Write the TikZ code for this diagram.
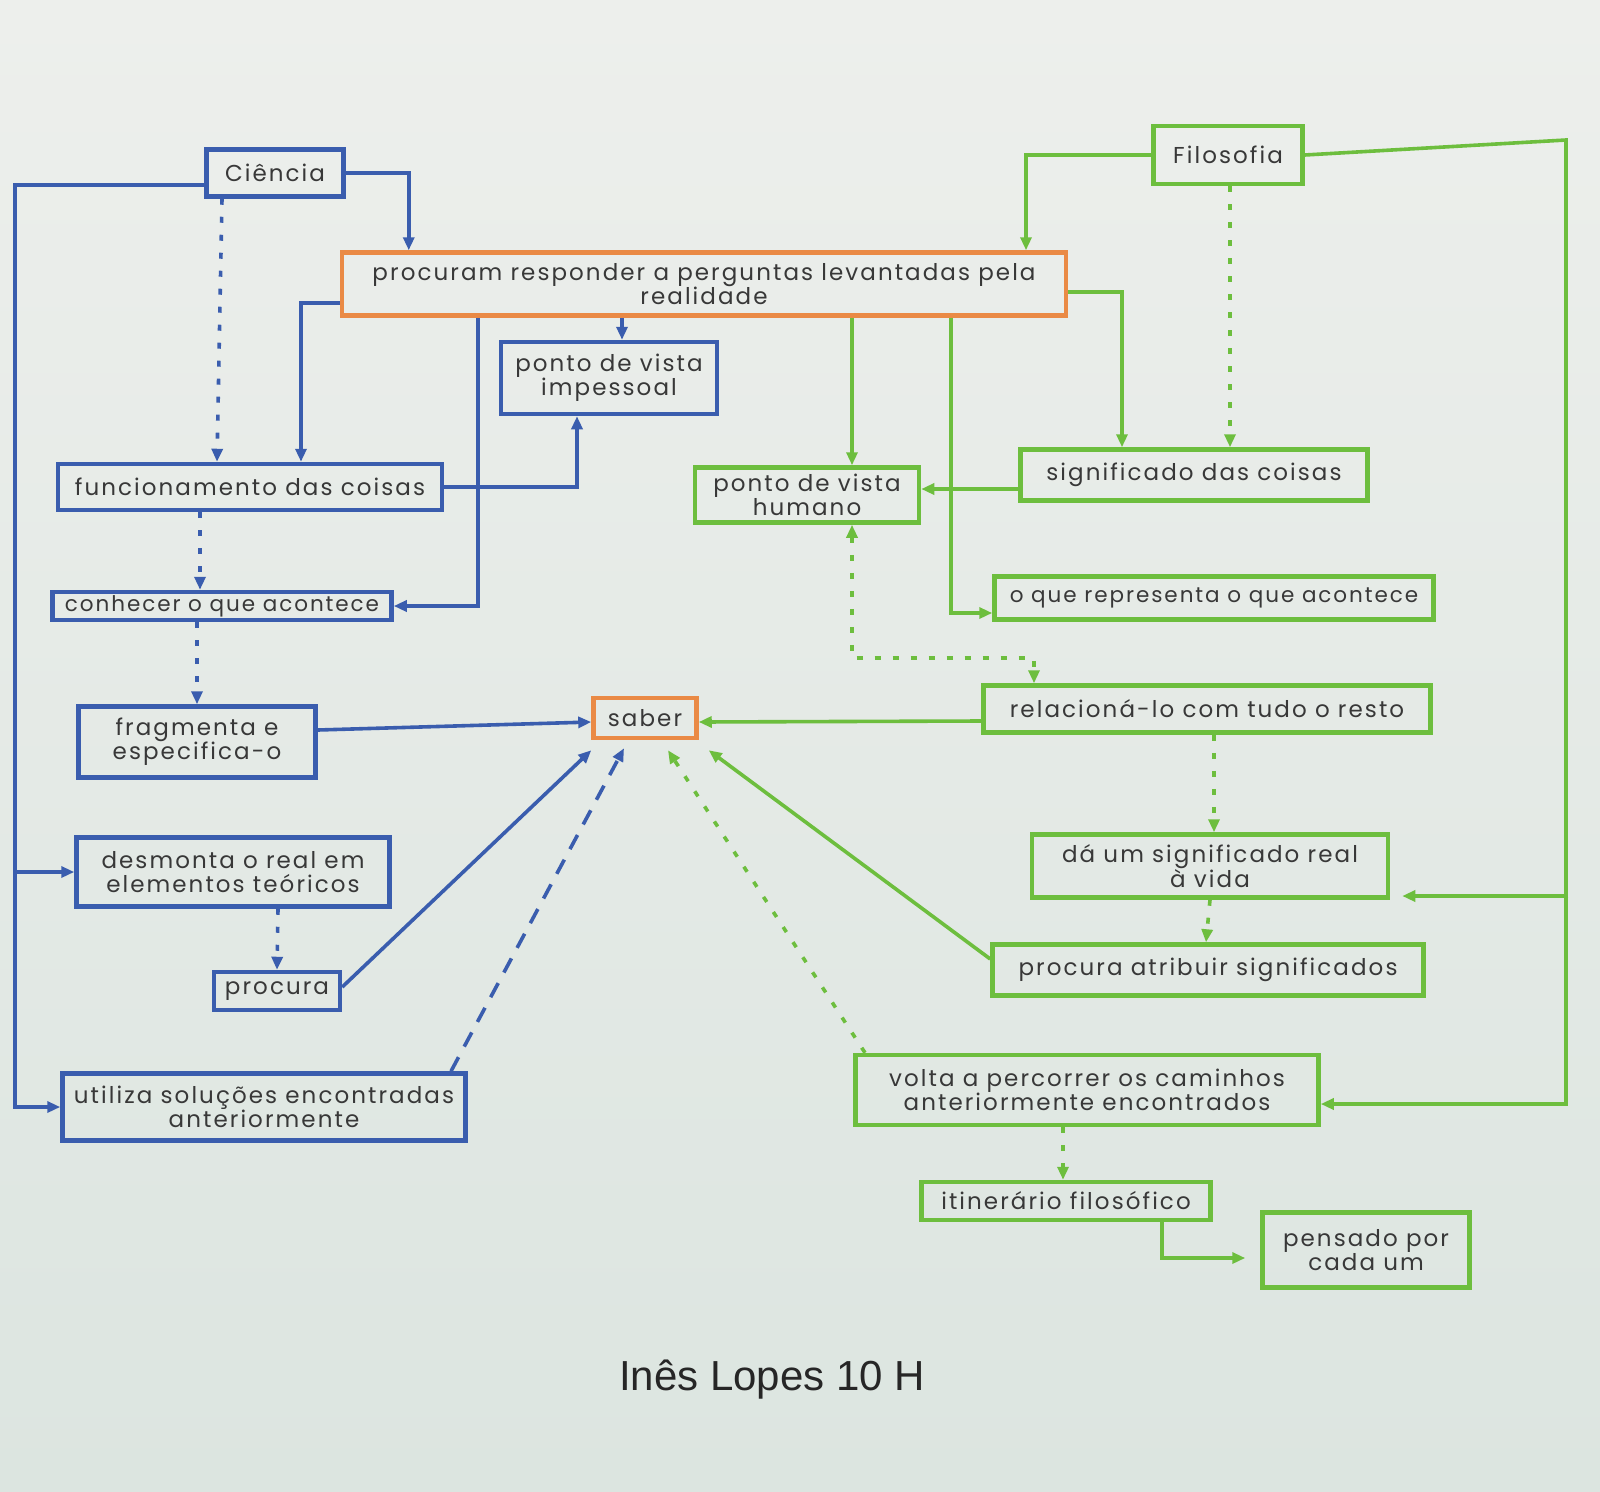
\documentclass[tikz,border=0pt]{standalone}
\usepackage{fontspec}
\setmainfont{Poppins}[LetterSpace=9]
\newfontfamily\autorfont{Liberation Sans}
\usetikzlibrary{arrows.meta}
\definecolor{cblue}{HTML}{3A5DAE}
\definecolor{fgreen}{HTML}{6DBE3E}
\definecolor{korange}{HTML}{EA8A45}
\definecolor{paper}{HTML}{DCE5E0}
\definecolor{papertop}{HTML}{EDEFEC}

\begin{document}
\begin{tikzpicture}[x=1pt, y=-1pt,
		every node/.style={font=\fontsize{23}{24}\selectfont, text=black!78, inner sep=0pt, align=center},
		cbox/.style={draw=cblue, line width=4.5pt},
		fbox/.style={draw=fgreen, line width=4.5pt},
		kbox/.style={draw=korange, line width=4.5pt},
		cline/.style={draw=cblue, line width=3.6pt, -{Triangle[length=13pt,width=11pt]}},
		fline/.style={draw=fgreen, line width=3.6pt, -{Triangle[length=13pt,width=11pt]}},
		dots/.style={dash pattern=on 6pt off 12pt},
		longdash/.style={dash pattern=on 16pt off 12pt}]
				\shade[top color=papertop, bottom color=paper] (0,0) rectangle (1600,1491);
				\useasboundingbox (0,0) rectangle (1600,1491);
				% ciencia
				\node[cbox, minimum width=137pt, minimum height=47pt] (cien) at (275, 173) {Ciência};
				\node[kbox, minimum width=724pt, minimum height=63pt] (procu) at (704, 284) {procuram responder a perguntas levantadas pela\\realidade};
				\node[cbox, minimum width=216pt, minimum height=72pt] (impes) at (609, 378) {ponto de vista\\impessoal};
				\node[cbox, minimum width=384pt, minimum height=46pt] (funci) at (250, 487) {funcionamento das coisas};
				\node[cbox, minimum width=339pt, minimum height=28pt, font=\fontsize{21.5}{23}\selectfont] (conhe) at (222, 606) {conhecer o que acontece};
				\node[cbox, minimum width=237pt, minimum height=71pt] (fragm) at (197, 742) {fragmenta e\\especifica-o};
				\node[cbox, minimum width=313pt, minimum height=69pt] (desmo) at (233, 872) {desmonta o real em\\elementos teóricos};
				\node[cbox, minimum width=126pt, minimum height=38pt] (busca) at (277, 991) {procura};
				\node[cbox, minimum width=403pt, minimum height=67pt] (utili) at (264, 1107) {utiliza soluções encontradas\\anteriormente};
				\node[kbox, minimum width=103pt, minimum height=40pt] (saber) at (645, 718) {saber};
				% filosofia
				\node[fbox, minimum width=149pt, minimum height=58pt] (filos) at (1228, 155) {Filosofia};
				\node[fbox, minimum width=224pt, minimum height=55pt] (human) at (807, 495) {ponto de vista\\humano};
				\node[fbox, minimum width=347pt, minimum height=51pt] (signi) at (1194, 475) {significado das coisas};
				\node[fbox, minimum width=439pt, minimum height=43pt, font=\fontsize{21.5}{23}\selectfont] (repre) at (1214, 598) {o que representa o que acontece};
				\node[fbox, minimum width=447pt, minimum height=47pt] (relac) at (1207, 709) {relacioná-lo com tudo o resto};
				\node[fbox, minimum width=356pt, minimum height=63pt] (dauma) at (1210, 866) {dá um significado real\\à vida};
				\node[fbox, minimum width=431pt, minimum height=51pt] (atrib) at (1208, 970) {procura atribuir significados};
				\node[fbox, minimum width=463pt, minimum height=70pt] (volta) at (1087, 1090) {volta a percorrer os caminhos\\anteriormente encontrados};
				\node[fbox, minimum width=289pt, minimum height=38pt] (itine) at (1066, 1201) {itinerário filosófico};
				\node[fbox, minimum width=207pt, minimum height=75pt] (pensa) at (1366, 1250) {pensado por\\cada um};
				\node[font=\autorfont\fontsize{42}{46}\selectfont, text=black!85] (autor) at (772, 1380) {Inês Lopes 10 H};
				\coordinate (fcanto) at (1566, 140);
				% ligacoes ciencia
				\draw[cline] (cien.east) -| ([xshift=69pt]procu.north west);
				\draw[cline] ([yshift=-12pt]cien.west) -| ([xshift=-45pt]utili.west) -- (utili.west);
				\draw[cline] ([xshift=-60pt]desmo.west) -- (desmo.west);
				\draw[cline, dots] ([xshift=-53pt]cien.south) -- ([xshift=-33pt]funci.north);
				\draw[cline] ([yshift=-19pt]procu.west) -| ([xshift=51pt]funci.north);
				\draw[cline] ([xshift=-226pt]procu.south) |- (conhe.east);
				\draw[cline] (funci.east) -| ([xshift=-32pt]impes.south);
				\draw[cline] ([xshift=-82pt]procu.south) -- ([xshift=13pt]impes.north);
				\draw[cline, dots] ([xshift=-50pt]funci.south) -- ([xshift=-22pt]conhe.north);
				\draw[cline, dots] ([xshift=-25pt]conhe.south) -- (fragm.north);
				\draw[cline] ([yshift=12pt]fragm.east) -- ([yshift=-4pt]saber.west);
				\draw[cline, dots] ([xshift=45pt]desmo.south) -- (busca.north);
				\draw[cline] ([yshift=4pt]busca.east) -- ([yshift=-10pt]saber.south west);
				\draw[cline, longdash] ([xshift=187pt]utili.north) -- ([xshift=-21pt,yshift=-8pt]saber.south);
				% ligacoes filosofia
				\draw[fline] (filos.west) -| ([xshift=322pt]procu.north);
				\draw[fline] (filos.east) -- (fcanto) |- ([yshift=-14pt]volta.east);
				\draw[fline] ([xshift=178pt,yshift=-30pt]dauma.east) -- ([xshift=12pt,yshift=-30pt]dauma.east);
				\draw[fline, dots] ([xshift=2pt]filos.south) -- ([xshift=36pt]signi.north);
				\draw[fline] ([yshift=-8pt]procu.east) -| ([xshift=-72pt]signi.north);
				\draw[fline] ([xshift=148pt]procu.south) -- ([xshift=45pt]human.north);
				\draw[fline] ([xshift=247pt]procu.south) |- ([yshift=-15pt]repre.west);
				\draw[fline] ([yshift=-14pt]signi.west) -- ([yshift=6pt]human.east);
				\draw[fline, dots, {Triangle[length=13pt,width=11pt]}-{Triangle[length=13pt,width=11pt]}] ([xshift=45pt]human.south) |- ([xshift=-173pt,yshift=25pt]relac.north) -- ([xshift=-173pt]relac.north);
				\draw[fline] ([yshift=-12pt]relac.west) -- ([yshift=-4pt]saber.east);
				\draw[fline, dots] ([xshift=7pt]relac.south) -- ([xshift=4pt]dauma.north);
				\draw[fline, dots] (dauma.south) -- ([xshift=-2pt]atrib.north);
				\draw[fline] ([yshift=11pt]atrib.west) -- ([xshift=10pt,yshift=-10pt]saber.south east);
				\draw[fline, dots] ([xshift=-222pt]volta.north) -- ([xshift=23pt,yshift=-10pt]saber.south);
				\draw[fline, dots] ([xshift=-24pt]volta.south) -- ([xshift=-3pt]itine.north);
				\draw[fline] ([xshift=96pt]itine.south) |- ([xshift=-15pt,yshift=-8pt]pensa.west);
			\end{tikzpicture}
\end{document}
